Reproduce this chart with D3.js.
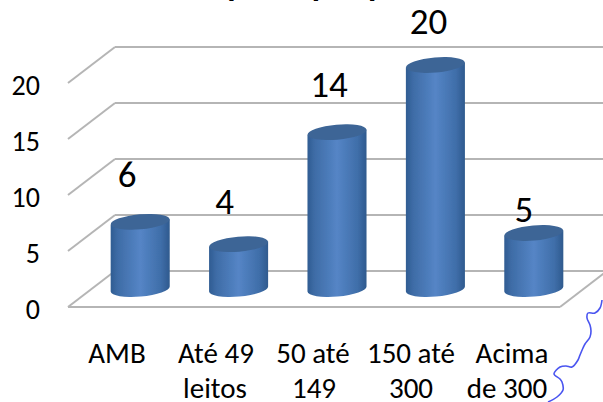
<!DOCTYPE html>
<html>
<head>
<meta charset="utf-8">
<script src="https://d3js.org/d3.v7.min.js"></script>
<style>
body{margin:0;background:#fff;}
svg{display:block;}
text{font-family:Carlito,"Open Sans","Noto Sans",sans-serif;fill:#000;}
</style>
</head>
<body>
<svg width="603" height="402"></svg>
<script>
const categories=['AMB','Até 49|leitos','50 até|149','150 até|300','Acima|de 300'];
const values=[6,4,14,20,5];
const ticks=[0,5,10,15,20];
const titleText='Hospitais por porte';

const svg=d3.select('svg');

const frontY=d3.scaleLinear().domain([0,20]).range([307,83]);
const backY=d3.scaleLinear().domain([0,20]).range([271,47]);
const frontX0=68, backX0=115, backX1=603, frontX1=560;

const x=d3.scaleBand().domain(categories).range([91,583]).paddingInner(0.4).paddingOuter(0.2);
const barY=d3.scaleLinear().domain([0,20]).range([289,65]);

// label placement by hand, the original labels sit off centre
const valueDx=[-13,-14,-8,-7,-10];
const valueDy=[-35,-30,-35,-31,-11];
const catCentres=[[117],[216,215],[313,314],[411,411],[512,507]];

const defs=svg.append('defs');
const grad=defs.append('linearGradient').attr('id','cyl');
grad.append('stop').attr('offset','0%').attr('stop-color','#2f5c92');
grad.append('stop').attr('offset','12%').attr('stop-color','#3e6ca6');
grad.append('stop').attr('offset','50%').attr('stop-color','#5585c6');
grad.append('stop').attr('offset','85%').attr('stop-color','#3f6ea9');
grad.append('stop').attr('offset','100%').attr('stop-color','#2f5a8e');
defs.append('filter').attr('id','soft').append('feGaussianBlur').attr('stdDeviation',0.7);

// title, cut off by the top edge like the original
svg.append('text').attr('x',174).attr('y',-4)
    .attr('font-size',34).attr('font-weight','bold').text(titleText);

// walls and floor
const grid=svg.append('g').attr('stroke','#b5b5b5').attr('stroke-width',2).attr('fill','none');
ticks.forEach(t=>{
    grid.append('line').attr('x1',backX0).attr('y1',backY(t)).attr('x2',backX1).attr('y2',backY(t));
    grid.append('line').attr('x1',frontX0).attr('y1',frontY(t)).attr('x2',backX0).attr('y2',backY(t));
});
grid.append('line').attr('x1',frontX0).attr('y1',frontY(0)).attr('x2',frontX1).attr('y2',frontY(0));
grid.append('line').attr('x1',frontX1).attr('y1',frontY(0)).attr('x2',backX1+4).attr('y2',backY(0));

svg.append('g').selectAll('text').data(ticks).join('text')
    .attr('x',40).attr('y',d=>frontY(d)+11.5).attr('text-anchor','end')
    .attr('font-size',28).text(d=>d);

// cylinders
const ry=7.5, tilt=-5;
const bars=svg.append('g').selectAll('g').data(values).join('g')
    .attr('filter','url(#soft)');
bars.each(function(v,i){
    const g=d3.select(this);
    const bw=x.bandwidth();
    const l=x(categories[i]), r=l+bw, cx=l+bw/2;
    const top=barY(v), bot=barY(0);
    const rise=Math.tan(-tilt*Math.PI/180)*bw/2;
    g.append('path')
        .attr('d',`M${l},${top+rise}L${l},${bot+rise}A${bw/2},${ry} ${tilt} 0 0 ${r},${bot-rise}L${r},${top-rise}Z`)
        .attr('fill','url(#cyl)');
    g.append('ellipse').attr('cx',cx).attr('cy',top).attr('rx',bw/2).attr('ry',ry)
        .attr('transform',`rotate(${tilt} ${cx} ${top})`).attr('fill','#3d6596');
});

// value labels
svg.append('g').selectAll('text').data(values).join('text')
    .attr('x',(d,i)=>x(categories[i])+x.bandwidth()/2+valueDx[i])
    .attr('y',(d,i)=>barY(d)+valueDy[i]).attr('text-anchor','middle')
    .attr('font-size',37).text(d=>d);

// category labels
const labels=svg.append('g').selectAll('text').data(categories).join('text')
    .attr('text-anchor','middle').attr('font-size',29);
labels.each(function(d,i){
    d.split('|').forEach((s,j)=>{
        d3.select(this).append('tspan').attr('x',catCentres[i][j]).attr('y',363+j*35).text(s);
    });
});

// spell check squiggle
const squiggle=[[602,300],[600,308],[595,313],[588,313],[587,318],[590,325],[591,331],[590,337],[585,344],[583,348],[580,355],[578,360],[572,367],[566,366],[560,367],[554,374],[560,379],[562,382],[563,390],[557,397],[548,402]];
svg.append('path').attr('d',d3.line().curve(d3.curveCatmullRom)(squiggle))
    .attr('fill','none').attr('stroke','#4a55f0').attr('stroke-width',1.6);
</script>
</body>
</html>
